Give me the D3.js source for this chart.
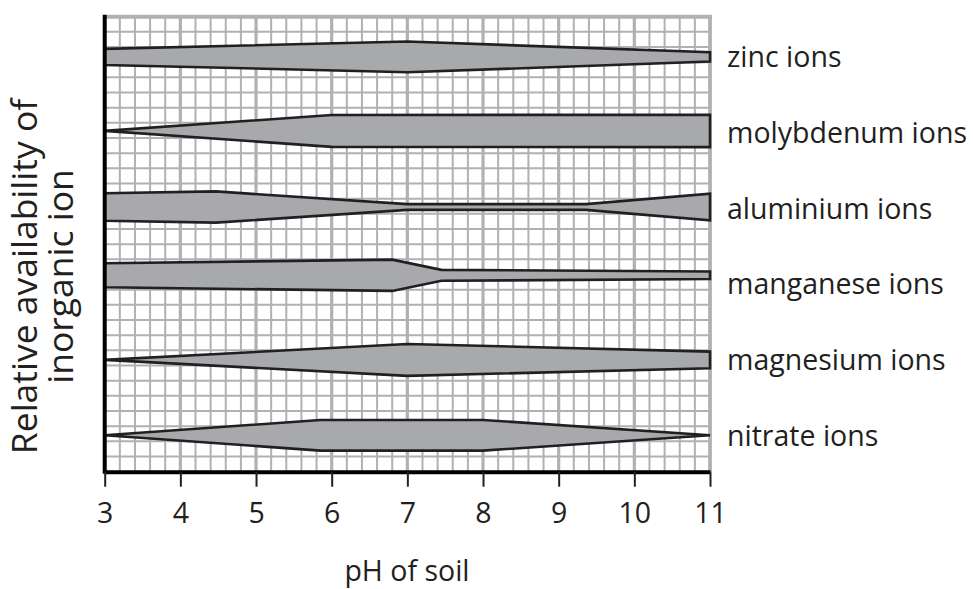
<!DOCTYPE html>
<html>
<head>
<meta charset="utf-8">
<script src="https://cdn.jsdelivr.net/npm/d3@7"></script>
<style>
  body { margin: 0; background: #fff; }
  text { font-family: "Open Sans", sans-serif; fill: #231f20; }
</style>
</head>
<body>
<div id="chart"></div>
<script>
// values (availability in grid rows, 30 rows tall)
const ions = ["zinc ions", "molybdenum ions", "aluminium ions", "manganese ions", "magnesium ions", "nitrate ions"];
const centreRow = [2.65, 7.53, 12.55, 17.05, 22.63, 27.60];
const labelRow = [2.65, 7.65, 12.65, 17.65, 22.65, 27.65];
const phPoints = [
  [3, 7, 11],
  [3, 6, 11],
  [3, 4.47, 7, 9.36, 11],
  [3, 6.8, 7.45, 11],
  [3, 7, 11],
  [3, 5.85, 8, 11]
];
const halfWidth = [
  [0.53, 1.01, 0.31],
  [0, 1.05, 1.07],
  [0.91, 1.03, 0.19, 0.19, 0.88],
  [0.79, 1.03, 0.36, 0.25],
  [0, 1.05, 0.55],
  [0, 1.01, 1.01, 0]
];
const phTicks = [3, 4, 5, 6, 7, 8, 9, 10, 11];

const width = 973, height = 589;
const plotLeft = 104.7, plotRight = 710, plotTop = 16.7, plotBottom = 471.7;

const svg = d3.select('#chart').append('svg')
  .attr('width', width)
  .attr('height', height);

const x = d3.scaleLinear().domain([3, 11]).range([plotLeft, plotRight]);
const y = d3.scaleLinear().domain([0, 30]).range([plotTop, plotBottom]);

// grid paper
const grid = svg.append('g');
const minorX = d3.range(3, 11.001, 0.2).map(d => +d.toFixed(1));
grid.selectAll('line.vx')
  .data(minorX)
  .join('line')
  .attr('x1', d => x(d)).attr('x2', d => x(d))
  .attr('y1', plotTop).attr('y2', plotBottom)
  .attr('stroke', '#b1b1b1')
  .attr('stroke-width', d => Number.isInteger(d) ? 3.2 : 2);
grid.selectAll('line.hy')
  .data(d3.range(0, 31))
  .join('line')
  .attr('x1', plotLeft).attr('x2', plotRight)
  .attr('y1', d => y(d)).attr('y2', d => y(d))
  .attr('stroke', '#b1b1b1')
  .attr('stroke-width', 2);

// borders at top and right
svg.append('line')
  .attr('x1', plotLeft).attr('x2', plotRight + 2)
  .attr('y1', plotTop).attr('y2', plotTop)
  .attr('stroke', '#b1b1b1').attr('stroke-width', 4);
svg.append('line')
  .attr('x1', plotRight).attr('x2', plotRight)
  .attr('y1', plotTop).attr('y2', plotBottom)
  .attr('stroke', '#b1b1b1').attr('stroke-width', 3.5);

// bands
const line = d3.line().x(d => x(d[0])).y(d => y(d[1]));
ions.forEach(function(name, i) {
  const c = centreRow[i];
  const upper = phPoints[i].map((p, j) => [p, c - halfWidth[i][j]]);
  const lower = phPoints[i].map((p, j) => [p, c + halfWidth[i][j]]).reverse();
  svg.append('path')
    .attr('d', line(upper.concat(lower)) + 'Z')
    .attr('fill', '#a7a9ac')
    .attr('stroke', '#231f20')
    .attr('stroke-width', 2.6)
    .attr('stroke-linejoin', 'miter');
});

// labels
svg.selectAll('text.ion')
  .data(ions)
  .join('text')
  .attr('class', 'ion')
  .attr('x', 727)
  .attr('y', (d, i) => y(labelRow[i]))
  .attr('dy', '0.35em')
  .style('font-size', '28.5px')
  .text(d => d);

// axes
svg.append('line')
  .attr('x1', plotLeft).attr('x2', plotLeft)
  .attr('y1', plotTop - 2).attr('y2', plotBottom + 2)
  .attr('stroke', '#000').attr('stroke-width', 4);

const xAxis = svg.append('g')
  .attr('transform', `translate(0,${plotBottom})`)
  .call(d3.axisBottom(x).tickValues(phTicks).tickSize(15).tickSizeOuter(0));
xAxis.select('.domain').attr('stroke', '#000').attr('stroke-width', 4);
xAxis.selectAll('.tick line').attr('stroke', '#231f20').attr('stroke-width', 2);
xAxis.selectAll('.tick text')
  .attr('y', 51).attr('dy', 0)
  .style('font-size', '28.5px')
  .style('font-family', '"Open Sans", sans-serif')
  .attr('fill', '#231f20');

svg.append('text')
  .attr('x', 407).attr('y', 581)
  .attr('text-anchor', 'middle')
  .style('font-size', '28.5px')
  .text('pH of soil');

const yTitle = svg.append('text')
  .attr('transform', 'translate(37,276.5) rotate(-90)')
  .attr('text-anchor', 'middle')
  .style('font-size', '35.5px');
yTitle.append('tspan').attr('x', 0).attr('y', 0).text('Relative availability of');
yTitle.append('tspan').attr('x', 0).attr('y', 36).text('inorganic ion');
</script>
</body>
</html>
